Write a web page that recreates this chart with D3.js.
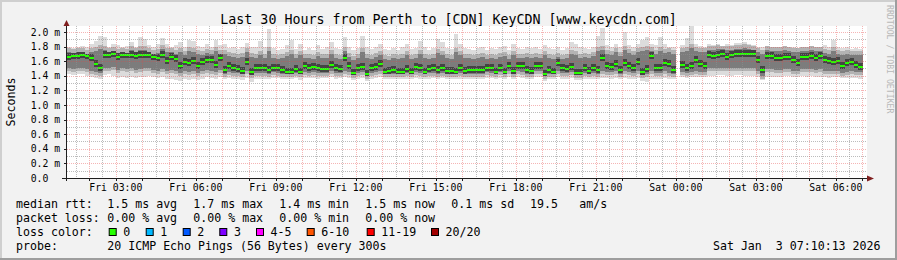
<!DOCTYPE html>
<html>
<head>
<meta charset="utf-8">
<script src="https://cdn.jsdelivr.net/npm/d3@7"></script>
<style>
  body { margin: 0; background: #f2f2f2; }
  svg text { font-family: "DejaVu Sans Mono", monospace; fill: #000; white-space: pre; }
</style>
</head>
<body>
<script>
// 10 minute buckets, Fri 01:10:13 -> Sat 07:10:13 (values in ms), null = no data
var medianRtt = [
  1.66,1.67,1.67,1.68,1.67,1.65,1.56,1.50,1.68,1.68,1.70,1.66,1.68,1.68,1.69,
  1.67,1.68,1.68,1.68,1.66,1.64,1.68,1.60,1.66,1.63,1.54,1.59,1.57,1.60,1.54,
  1.59,1.62,1.62,1.55,1.64,1.48,1.53,1.50,1.49,1.46,1.59,1.45,1.50,1.50,1.50,
  1.48,1.50,1.50,1.48,1.45,1.45,1.49,1.45,1.53,1.50,1.52,1.50,1.49,1.49,1.55,
  1.51,1.49,1.64,1.53,1.44,1.50,1.52,1.43,1.50,1.52,1.56,1.45,1.47,1.48,1.45,
  1.45,1.49,1.45,1.52,1.50,1.45,1.49,1.50,1.48,1.50,1.46,1.46,1.45,1.50,1.46,
  1.48,1.48,1.48,1.48,1.51,1.50,1.45,1.51,1.45,1.53,1.46,1.54,1.53,1.48,1.46,
  1.54,1.54,1.43,1.48,1.45,1.57,1.50,1.49,1.52,1.44,1.44,1.50,1.47,1.50,1.48,
  1.65,1.54,1.52,1.56,1.48,1.58,1.54,1.50,1.59,1.45,1.49,1.67,1.50,1.51,1.58,
  1.56,1.48,null,1.55,1.50,1.54,1.61,1.56,1.54,1.68,1.67,1.69,1.70,1.66,1.68,
  1.70,1.70,1.70,1.70,1.70,1.62,1.48,1.67,1.67,1.65,1.65,1.66,1.66,1.62,1.58,
  1.66,1.66,1.67,1.65,1.67,1.61,1.60,1.59,1.60,1.54,1.57,1.59,1.55,1.52,null
];
var pingMax = [
  1.79,1.78,1.80,1.81,1.79,1.83,1.88,1.95,1.93,1.80,1.84,1.82,1.79,1.81,1.86,
  1.80,1.93,1.91,1.82,1.80,1.83,1.92,1.84,1.80,1.82,1.86,1.80,1.89,1.88,1.81,
  1.79,1.83,1.80,1.89,1.82,1.84,1.78,1.80,1.77,1.79,1.85,1.80,1.79,1.87,1.80,
  2.04,1.78,1.76,1.77,1.82,1.89,1.77,1.84,1.76,1.78,1.76,1.82,1.77,1.79,1.86,
  1.78,1.77,1.93,1.80,1.76,1.78,1.95,1.79,1.77,1.80,1.84,1.77,1.76,1.78,1.76,
  1.79,1.84,1.77,1.78,1.88,1.79,1.76,1.78,1.90,1.86,1.78,1.77,1.97,1.84,1.78,
  1.77,1.76,1.78,1.80,1.76,1.78,1.77,1.79,1.81,1.76,1.84,1.78,1.77,1.79,1.78,
  1.80,1.77,1.82,1.78,1.77,1.79,1.76,1.78,1.86,1.84,1.79,1.78,1.77,1.80,1.95,
  2.06,1.82,1.80,1.83,1.79,2.00,1.82,1.80,1.84,1.89,1.93,1.84,1.82,1.93,1.83,
  1.80,1.79,null,1.82,1.92,2.08,1.84,1.81,1.80,1.83,1.82,1.84,1.81,1.83,1.82,
  1.85,1.85,1.86,1.84,1.82,1.80,1.79,1.81,1.80,1.79,1.80,1.81,1.79,1.80,1.78,
  1.80,1.79,1.81,1.80,1.79,1.82,1.80,1.89,1.80,1.78,1.79,1.77,1.78,1.77,null
];
var pingHigh = [
  1.72,1.71,1.73,1.72,1.70,1.72,1.74,1.77,1.75,1.72,1.74,1.71,1.72,1.71,1.75,
  1.72,1.76,1.76,1.72,1.70,1.71,1.77,1.72,1.72,1.70,1.73,1.69,1.74,1.73,1.70,
  1.68,1.71,1.70,1.74,1.70,1.70,1.67,1.66,1.65,1.66,1.72,1.66,1.64,1.69,1.64,
  1.74,1.64,1.63,1.64,1.67,1.70,1.64,1.69,1.65,1.64,1.63,1.67,1.64,1.65,1.70,
  1.64,1.63,1.74,1.66,1.62,1.64,1.73,1.65,1.63,1.66,1.69,1.63,1.62,1.64,1.63,
  1.65,1.68,1.63,1.65,1.70,1.64,1.63,1.65,1.71,1.68,1.64,1.63,1.72,1.68,1.64,
  1.64,1.63,1.64,1.66,1.63,1.65,1.63,1.66,1.67,1.63,1.69,1.65,1.64,1.66,1.64,
  1.66,1.64,1.68,1.65,1.63,1.66,1.63,1.65,1.70,1.69,1.65,1.66,1.64,1.67,1.74,
  1.76,1.70,1.68,1.72,1.67,1.76,1.71,1.68,1.72,1.74,1.75,1.74,1.70,1.74,1.71,
  1.72,1.70,null,1.72,1.74,1.78,1.74,1.72,1.72,1.76,1.76,1.77,1.77,1.76,1.76,
  1.77,1.77,1.78,1.77,1.76,1.72,1.70,1.75,1.74,1.74,1.74,1.75,1.74,1.73,1.72,
  1.74,1.74,1.75,1.74,1.74,1.71,1.70,1.74,1.70,1.69,1.70,1.69,1.69,1.68,null
];
var pingLow = [
  1.50,1.49,1.50,1.51,1.49,1.47,1.45,1.44,1.50,1.51,1.52,1.48,1.50,1.49,1.50,
  1.48,1.49,1.50,1.50,1.48,1.47,1.49,1.46,1.48,1.47,1.44,1.46,1.45,1.47,1.44,
  1.46,1.48,1.47,1.45,1.48,1.43,1.45,1.44,1.44,1.42,1.46,1.41,1.44,1.44,1.44,
  1.43,1.45,1.44,1.43,1.42,1.42,1.44,1.42,1.45,1.44,1.45,1.44,1.44,1.44,1.46,
  1.44,1.44,1.47,1.45,1.41,1.44,1.45,1.40,1.44,1.45,1.46,1.42,1.43,1.43,1.42,
  1.42,1.44,1.42,1.45,1.44,1.42,1.44,1.44,1.43,1.44,1.43,1.43,1.42,1.44,1.43,
  1.43,1.43,1.43,1.43,1.45,1.44,1.42,1.45,1.42,1.46,1.43,1.46,1.45,1.43,1.42,
  1.46,1.46,1.40,1.43,1.42,1.47,1.44,1.44,1.45,1.41,1.41,1.44,1.43,1.44,1.43,
  1.46,1.45,1.45,1.46,1.43,1.46,1.45,1.44,1.46,1.41,1.42,1.46,1.44,1.44,1.46,
  1.44,1.42,null,1.45,1.44,1.45,1.47,1.45,1.45,1.50,1.50,1.51,1.51,1.50,1.50,
  1.51,1.51,1.51,1.50,1.50,1.47,1.40,1.49,1.49,1.48,1.48,1.49,1.49,1.47,1.46,
  1.49,1.49,1.49,1.48,1.49,1.46,1.46,1.46,1.46,1.44,1.45,1.46,1.45,1.45,null
];
var pingMin = [
  1.42,1.41,1.42,1.43,1.40,1.39,1.37,1.36,1.41,1.42,1.40,1.37,1.38,1.37,1.38,
  1.37,1.38,1.39,1.40,1.38,1.37,1.39,1.36,1.35,1.34,1.33,1.35,1.34,1.36,1.34,
  1.36,1.38,1.37,1.35,1.38,1.35,1.37,1.35,1.36,1.34,1.37,1.32,1.35,1.36,1.35,
  1.36,1.37,1.37,1.36,1.35,1.35,1.37,1.34,1.37,1.37,1.37,1.36,1.37,1.37,1.38,
  1.36,1.37,1.38,1.37,1.34,1.36,1.37,1.33,1.36,1.37,1.38,1.35,1.36,1.36,1.35,
  1.35,1.36,1.35,1.37,1.36,1.35,1.36,1.37,1.36,1.37,1.36,1.36,1.35,1.36,1.36,
  1.36,1.36,1.36,1.36,1.37,1.37,1.35,1.37,1.35,1.38,1.36,1.38,1.37,1.36,1.35,
  1.38,1.38,1.33,1.36,1.35,1.38,1.36,1.36,1.37,1.34,1.34,1.36,1.36,1.36,1.35,
  1.37,1.37,1.36,1.37,1.35,1.37,1.36,1.35,1.37,1.33,1.32,1.36,1.35,1.35,1.37,
  1.36,1.35,null,1.38,1.37,1.38,1.39,1.38,1.38,1.40,1.40,1.41,1.41,1.40,1.40,
  1.41,1.41,1.40,1.40,1.40,1.38,1.34,1.39,1.39,1.39,1.39,1.40,1.40,1.39,1.38,
  1.40,1.39,1.40,1.39,1.39,1.38,1.37,1.38,1.38,1.37,1.37,1.37,1.37,1.36,null
];

var yTicks = [0, 0.2, 0.4, 0.6, 0.8, 1.0, 1.2, 1.4, 1.6, 1.8, 2.0];
var rttStats = ["1.5 ms avg", "1.7 ms max", "1.4 ms min", "1.5 ms now", "0.1 ms sd"];
var lossStats = ["0.00 % avg", "0.00 % max", "0.00 % min", "0.00 % now"];
var lossLabels = ["0", "1", "2", "3", "4-5", "6-10", "11-19", "20/20"];
var lossColors = ["#26ff00", "#00b8ff", "#0059ff", "#7e00ff", "#ff00ff", "#ff5500", "#ff0000", "#a10000"];

var width = 897, height = 260;
var plot = {left: 67, right: 867, top: 26, bottom: 178};
var tEnd = new Date(Date.UTC(2026, 0, 3, 7, 10, 13));
var tStart = new Date(+tEnd - 30 * 3600 * 1000);
var stepMs = 600 * 1000;

var x = d3.scaleUtc().domain([tStart, tEnd]).range([plot.left, plot.right]);
var y = d3.scaleLinear().domain([0, 2.082]).range([plot.bottom, plot.top]);

var svg = d3.select("body").append("svg").attr("width", width).attr("height", height);

// background + 3d border
svg.append("rect").attr("width", width).attr("height", height).attr("fill", "#f2f2f2");
svg.append("rect").attr("x", 0).attr("y", 0).attr("width", width).attr("height", 2).attr("fill", "#cfcfcf");
svg.append("rect").attr("x", 0).attr("y", 0).attr("width", 2).attr("height", height).attr("fill", "#cfcfcf");
svg.append("rect").attr("x", 0).attr("y", height - 2).attr("width", width).attr("height", 2).attr("fill", "#9e9e9e");
svg.append("rect").attr("x", width - 2).attr("y", 0).attr("width", 2).attr("height", height).attr("fill", "#9e9e9e");

svg.append("rect").attr("x", plot.left).attr("y", plot.top)
    .attr("width", plot.right - plot.left).attr("height", plot.bottom - plot.top).attr("fill", "#fff");

// smoke
function x0(i) { return x(new Date(+tStart + i * stepMs)); }
function x1(i) { return x(new Date(+tStart + (i + 1) * stepMs)); }
var idx = d3.range(medianRtt.length).filter(function (i) { return medianRtt[i] !== null; });

var smoke = svg.append("g").attr("shape-rendering", "crispEdges");
function band(cls, color, top, bot) {
  smoke.selectAll("rect." + cls).data(idx).enter().append("rect")
      .attr("class", cls)
      .attr("x", x0)
      .attr("width", function (i) { return x1(i) - x0(i); })
      .attr("y", top)
      .attr("height", function (i) { return Math.max(0, bot(i) - top(i)); })
      .attr("fill", color);
}
band("outer", "#dcdcdc", function (i) { return y(pingMax[i]); }, function (i) { return y(pingMin[i]); });
band("mid", "#b3b3b3",
  function (i) { return Math.max(y(pingMax[i]), y(pingHigh[i]) - 4); },
  function (i) { return Math.min(y(pingMin[i]), y(pingLow[i]) + 3); });
band("inner", "#7c7c7c", function (i) { return y(pingHigh[i]); }, function (i) { return y(pingLow[i]); });
band("core", "#444444",
  function (i) { return Math.max(y(pingHigh[i]), y(medianRtt[i]) - 4); },
  function (i) { return Math.min(y(pingLow[i]), y(medianRtt[i]) + 3); });

// median (loss 0 -> green)
svg.append("g").attr("shape-rendering", "crispEdges")
  .selectAll("rect").data(idx).enter().append("rect")
    .attr("x", x0)
    .attr("width", function (i) { return x1(i) - x0(i); })
    .attr("y", function (i) { return y(medianRtt[i]) - 1; })
    .attr("height", 2)
    .attr("fill", lossColors[0]);

// grid on top
var grid = svg.append("g").attr("stroke-width", 1).attr("stroke-dasharray", "1,1");
var minorCol = "rgba(143,143,143,0.6)", majorCol = "rgba(230,70,70,0.4)";
var minorH = d3.range(1, 21, 2).map(function (d) { return d / 10; });
grid.selectAll("line.hmin").data(minorH).enter().append("line")
    .attr("x1", plot.left).attr("x2", plot.right)
    .attr("y1", function (d) { return Math.round(y(d)) + 0.5; })
    .attr("y2", function (d) { return Math.round(y(d)) + 0.5; })
    .attr("stroke", minorCol);
var minorV = d3.utcMinute.every(30).range(tStart, tEnd).filter(function (d) { return d.getUTCMinutes() === 30; });
grid.selectAll("line.vmin").data(minorV).enter().append("line")
    .attr("x1", function (d) { return Math.round(x(d)) + 0.5; })
    .attr("x2", function (d) { return Math.round(x(d)) + 0.5; })
    .attr("y1", plot.top).attr("y2", plot.bottom)
    .attr("stroke", minorCol);
grid.selectAll("line.hmaj").data(yTicks.slice(1)).enter().append("line")
    .attr("x1", plot.left).attr("x2", plot.right)
    .attr("y1", function (d) { return Math.round(y(d)) + 0.5; })
    .attr("y2", function (d) { return Math.round(y(d)) + 0.5; })
    .attr("stroke", majorCol);
var hours = d3.utcHour.every(1).range(tStart, tEnd);
grid.selectAll("line.vmaj").data(hours).enter().append("line")
    .attr("x1", function (d) { return Math.round(x(d)) + 0.5; })
    .attr("x2", function (d) { return Math.round(x(d)) + 0.5; })
    .attr("y1", plot.top).attr("y2", plot.bottom)
    .attr("stroke", majorCol);

// axes
var axisCol = "#1f1f1f";
svg.append("line").attr("x1", 62).attr("x2", 870).attr("y1", plot.bottom + 0.5).attr("y2", plot.bottom + 0.5)
    .attr("stroke", axisCol);
svg.append("line").attr("x1", plot.left - 0.5).attr("x2", plot.left - 0.5).attr("y1", plot.bottom + 3).attr("y2", 22)
    .attr("stroke", axisCol);
svg.selectAll("line.xt").data(hours).enter().append("line")
    .attr("x1", function (d) { return Math.round(x(d)) + 0.5; })
    .attr("x2", function (d) { return Math.round(x(d)) + 0.5; })
    .attr("y1", plot.bottom).attr("y2", plot.bottom + 3).attr("stroke", axisCol);
svg.selectAll("line.yt").data(yTicks).enter().append("line")
    .attr("x1", plot.left - 3).attr("x2", plot.left)
    .attr("y1", function (d) { return Math.round(y(d)) + 0.5; })
    .attr("y2", function (d) { return Math.round(y(d)) + 0.5; })
    .attr("stroke", axisCol);
svg.append("path").attr("d", "M63.5,26 L66.5,20 L69.5,26 Z").attr("fill", "#801f1f");
svg.append("path").attr("d", "M867,175.5 L874,178.5 L867,181.5 Z").attr("fill", "#801f1f");

// tick labels
svg.selectAll("text.yl").data(yTicks).enter().append("text")
    .attr("x", 30.7).attr("y", function (d) { return y(d) + 3.6; })
    .style("font-size", "9.8px")
    .text(function (d) { return d === 0 ? "0.0" : d.toFixed(1) + " m"; });
var fmt = d3.utcFormat("%a %H:%M");
svg.selectAll("text.xl").data(d3.utcHour.every(3).range(tStart, tEnd)).enter().append("text")
    .attr("x", function (d) { return x(d); }).attr("y", 191)
    .attr("text-anchor", "middle").style("font-size", "9.8px")
    .text(function (d) { return fmt(d); });

// titles
svg.append("text").attr("x", 448.5).attr("y", 23.5).attr("text-anchor", "middle")
    .style("font-size", "13.3px").text("Last 30 Hours from Perth to [CDN] KeyCDN [www.keycdn.com]");
svg.append("text").attr("transform", "translate(15,102) rotate(-90)").attr("text-anchor", "middle")
    .style("font-size", "11.6px").text("Seconds");
svg.append("text").attr("transform", "translate(887,5) rotate(90)")
    .style("font-size", "8.2px").style("fill", "#b8b8b8").text("RRDTOOL / TOBI OETIKER");

// legend
var lg = svg.append("g").style("font-size", "11.6px");
var colX = 107.3, colStep = 86;
lg.append("text").attr("x", 16).attr("y", 208).text("median rtt:");
rttStats.forEach(function (s, j) {
  lg.append("text").attr("x", colX + j * colStep).attr("y", 208).text(s);
});
lg.append("text").attr("x", 530).attr("y", 208).text("19.5");
lg.append("text").attr("x", 579.3).attr("y", 208).text("am/s");
lg.append("text").attr("x", 16).attr("y", 222).text("packet loss:");
lossStats.forEach(function (s, j) {
  lg.append("text").attr("x", colX + j * colStep).attr("y", 222).text(s);
});
lg.append("text").attr("x", 16).attr("y", 236).text("loss color:");
var swatchX = [108.7, 145.7, 182.7, 219.3, 256, 306.7, 366.7, 431];
lossLabels.forEach(function (s, j) {
  lg.append("rect").attr("x", swatchX[j] + 0.5).attr("y", 228.5).attr("width", 7).attr("height", 7)
      .attr("fill", lossColors[j]).attr("stroke", "#000").attr("stroke-width", 1);
  lg.append("text").attr("x", swatchX[j] + 14.6).attr("y", 236).text(s);
});
lg.append("text").attr("x", 16).attr("y", 250).text("probe:");
lg.append("text").attr("x", colX).attr("y", 250).text("20 ICMP Echo Pings (56 Bytes) every 300s");
lg.append("text").attr("x", 880.5).attr("y", 250).attr("text-anchor", "end").text("Sat Jan  3 07:10:13 2026");
</script>
</body>
</html>
